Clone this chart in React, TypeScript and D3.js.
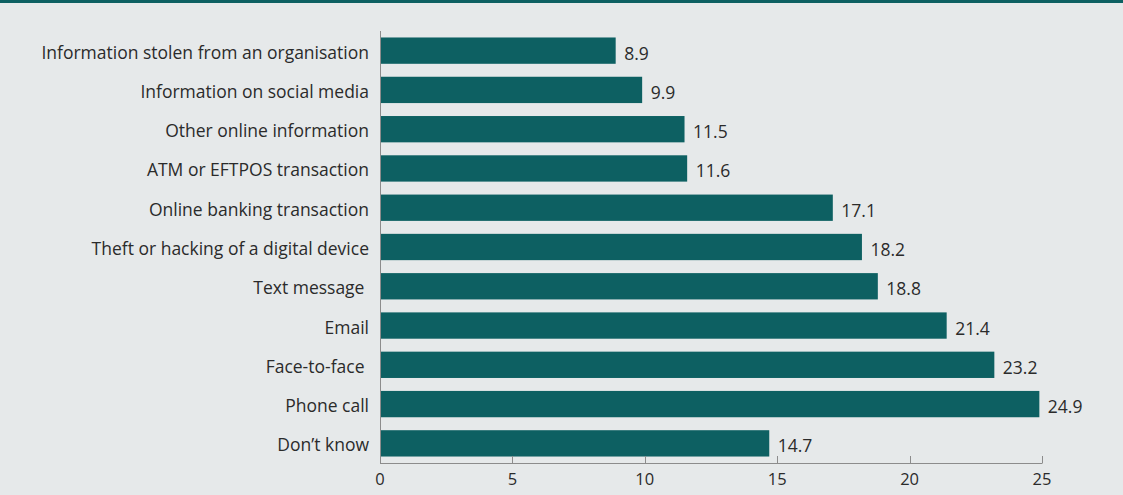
import React from "react";
import * as d3 from "d3";

const categories = [
  "Information stolen from an organisation",
  "Information on social media",
  "Other online information",
  "ATM or EFTPOS transaction",
  "Online banking transaction",
  "Theft or hacking of a digital device",
  "Text message ",
  "Email",
  "Face-to-face ",
  "Phone call",
  "Don\u2019t know",
];
const values = [8.9, 9.9, 11.5, 11.6, 17.1, 18.2, 18.8, 21.4, 23.2, 24.9, 14.7];
const xTicks = [0, 5, 10, 15, 20, 25];

const W = 1123;
const H = 495;
const FONT = "'Open Sans', Lato, sans-serif";
const FS = 17.5;
const FS_TICK = 16.5;

export default function App() {
  const x = d3.scaleLinear().domain([0, 25]).range([380, 1042]);
  const y = d3
    .scaleBand<string>()
    .domain(categories)
    .range([31, 463])
    .paddingInner(0.33)
    .paddingOuter(0.165);
  const axisY = 463;
  return (
    <svg
      width={W}
      height={H}
      style={{ position: "absolute", left: 0, top: 0, display: "block" }}
      fontFamily={FONT}
    >
      <rect x={0} y={0} width={W} height={H} fill="#e6e9ea" />
      <rect x={0} y={0} width={W} height={3} fill="#0d6062" />
      {categories.map((c, i) => {
        const cy = y(c)! + y.bandwidth() / 2;
        return (
          <g key={c}>
            <rect
              x={x(0)}
              y={y(c)!}
              width={x(values[i]) - x(0)}
              height={y.bandwidth()}
              fill="#0d6062"
            />
            <text
              x={369}
              y={cy + 8}
              textAnchor="end"
              fontSize={FS}
              fill="#2b2b2b"
              style={{ whiteSpace: "pre" }}
            >
              {c}
            </text>
            <text x={x(values[i]) + 8.5} y={cy + 9} fontSize={FS} fill="#2b2b2b">
              {values[i].toFixed(1)}
            </text>
          </g>
        );
      })}
      <line x1={380.5} x2={380.5} y1={31} y2={axisY} stroke="#8c8c8c" strokeWidth={1} />
      <line x1={380} x2={x(25) + 0.5} y1={axisY + 0.5} y2={axisY + 0.5} stroke="#8c8c8c" strokeWidth={1} />
      {xTicks.map((t) => (
        <g key={t}>
          <line
            x1={Math.round(x(t)) + 0.5}
            x2={Math.round(x(t)) + 0.5}
            y1={axisY - 7}
            y2={axisY}
            stroke="#8c8c8c"
          />
          <text x={x(t)} y={484.5} textAnchor="middle" fontSize={FS_TICK} fill="#2b2b2b">
            {t}
          </text>
        </g>
      ))}
    </svg>
  );
}
